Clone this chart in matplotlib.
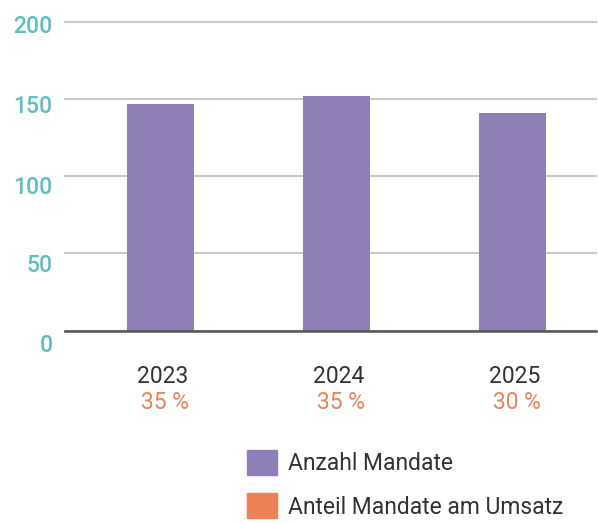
import matplotlib.pyplot as plt
from matplotlib.patches import Patch
from matplotlib.transforms import ScaledTranslation

years = ["2023", "2024", "2025"]
mandate = [147, 152, 141]
share = ["35 %", "35 %", "30 %"]
y_ticks = [0, 50, 100, 150, 200]

purple = "#8f7fb7"
orange = "#ef8157"
teal = "#5bc0be"
dark = "#333333"

plt.rcParams["font.family"] = ["Roboto", "DejaVu Sans"]

W, H = 598, 523
fig = plt.figure(figsize=(W / 100, H / 100), dpi=100)
ax = fig.add_axes([65 / W, 1 - 330.5 / H, (596 - 65) / W, (330.5 - 22) / H])

x = list(range(len(years)))
ax.bar(x, mandate, width=0.38, color=purple, zorder=2)

ax.set_xlim(-0.543, 2.474)
ax.set_ylim(0, 200)
ax.set_yticks(y_ticks)
ax.set_yticklabels([str(v) for v in y_ticks], color=teal, fontsize=16.5, fontweight=500)
ax.yaxis.grid(True, color="#c8c8c8", linewidth=1.5, zorder=0)
for gl in ax.get_ygridlines():
    gl.set_clip_on(False)
ax.tick_params(axis="y", length=0, pad=9)

# labels sit a bit lower than their grid lines, more so towards the bottom
shifts = [12.5, 10, 9, 5, 2]
for lab, s in zip(ax.get_yticklabels(), shifts):
    lab.set_transform(lab.get_transform() + ScaledTranslation(0, -s / 100, fig.dpi_scale_trans))

ax.set_xticks(x)
ax.set_xticklabels(years, color=dark, fontsize=16.5)
ax.tick_params(axis="x", length=0, pad=25)
for lab in ax.get_xticklabels():
    lab.set_transform(lab.get_transform() + ScaledTranslation(2.5 / 100, 0, fig.dpi_scale_trans))

for xi, s in zip(x, share):
    ax.annotate(s, xy=(xi, 0), xycoords=("data", "axes fraction"), xytext=(3, -52),
                textcoords="offset points", ha="center", va="center", color=orange, fontsize=16.5)

for sp in ["top", "right", "left"]:
    ax.spines[sp].set_visible(False)
ax.spines["bottom"].set_color("#555555")
ax.spines["bottom"].set_linewidth(1.8)
ax.spines["bottom"].set_zorder(3)

handles = [Patch(color=purple, label="Anzahl Mandate"),
           Patch(color=orange, label="Anteil Mandate am Umsatz")]
fig.legend(handles=handles, loc="upper left", bbox_to_anchor=(247 / W, 1 - 450 / H),
           frameon=False, fontsize=16.5, labelcolor=dark, borderpad=0, borderaxespad=0,
           handlelength=1.3, handleheight=1.3, handletextpad=0.5, labelspacing=0.8)

fig.savefig("out.png", dpi=100)
